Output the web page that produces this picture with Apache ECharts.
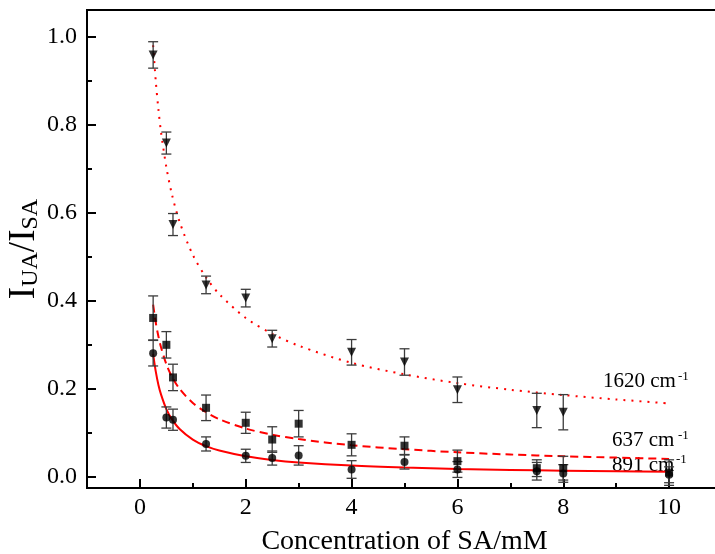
<!DOCTYPE html>
<html>
<head>
<meta charset="utf-8">
<script src="https://cdn.jsdelivr.net/npm/echarts@6/dist/echarts.min.js"></script>
<style>
html,body{margin:0;padding:0;background:#fff;}
#chart{width:715px;height:554px;}
</style>
</head>
<body>
<div id="chart"></div>
<script>
// ---------- data ----------
var xTicks = [0, 2, 4, 6, 8, 10];
var xMinorTicks = [1, 3, 5, 7, 9];
var yTicks = [0.0, 0.2, 0.4, 0.6, 0.8, 1.0];
var yMinorTicks = [0.1, 0.3, 0.5, 0.7, 0.9];

// 1620 cm-1 (down triangles)
var x1620 = [0.25, 0.5, 0.625, 1.25, 2, 2.5, 4, 5, 6, 7.5, 8];
var y1620 = [0.958, 0.758, 0.573, 0.436, 0.406, 0.314, 0.283, 0.261, 0.198, 0.151, 0.147];
var e1620 = [0.030, 0.025, 0.025, 0.020, 0.020, 0.019, 0.029, 0.030, 0.029, 0.039, 0.040];

// 637 cm-1 (squares)
var x637 = [0.25, 0.5, 0.625, 1.25, 2, 2.5, 3, 4, 5, 6, 7.5, 8, 10];
var y637 = [0.361, 0.300, 0.226, 0.157, 0.123, 0.085, 0.121, 0.073, 0.071, 0.036, 0.020, 0.020, 0.010];
var e637 = [0.050, 0.030, 0.030, 0.029, 0.024, 0.029, 0.030, 0.025, 0.020, 0.025, 0.019, 0.027, 0.029];

// 891 cm-1 (circles)
var x891 = [0.25, 0.5, 0.625, 1.25, 2, 2.5, 3, 4, 5, 6, 7.5, 8, 10];
var y891 = [0.281, 0.135, 0.130, 0.075, 0.048, 0.043, 0.049, 0.017, 0.034, 0.017, 0.013, 0.008, 0.005];
var e891 = [0.029, 0.024, 0.024, 0.016, 0.015, 0.016, 0.022, 0.020, 0.016, 0.018, 0.020, 0.020, 0.018];

// fitted curves
var xFit = [0.25, 0.3, 0.35, 0.4, 0.5, 0.6, 0.75, 1, 1.25, 1.5, 2, 2.5, 3, 4, 5, 6, 7, 8, 9, 10];
var fit1620 = [0.980, 0.898, 0.834, 0.782, 0.703, 0.644, 0.579, 0.504, 0.453, 0.415, 0.361, 0.325, 0.298, 0.259, 0.233, 0.213, 0.198, 0.186, 0.176, 0.167];
var fit637 = [0.391, 0.350, 0.319, 0.294, 0.256, 0.229, 0.200, 0.168, 0.147, 0.131, 0.110, 0.096, 0.086, 0.072, 0.063, 0.056, 0.051, 0.047, 0.044, 0.041];
var fit891 = [0.279, 0.239, 0.209, 0.187, 0.154, 0.132, 0.109, 0.085, 0.070, 0.060, 0.047, 0.0387, 0.0331, 0.0259, 0.0214, 0.0183, 0.016, 0.0143, 0.0129, 0.0118];

var seriesNames = ['1620 cm-1', '637 cm-1', '891 cm-1'];

// ---------- helpers ----------
function zip2(xs, ys) { return xs.map(function (x, i) { return [x, ys[i]]; }); }
function zip3(xs, ys, es) { return xs.map(function (x, i) { return [x, ys[i], es[i]]; }); }

var FONT = "'Liberation Serif','Times New Roman',serif";
var RED = '#ff0000';

function errRender(color) {
  return function (params, api) {
    var x = api.value(0), y = api.value(1), e = api.value(2);
    var t = api.coord([x, y + e]);
    var b = api.coord([x, y - e]);
    var hw = 5;
    var st = { stroke: color, lineWidth: 1.3 };
    return {
      type: 'group',
      children: [
        { type: 'line', shape: { x1: t[0], y1: t[1], x2: b[0], y2: b[1] }, style: st },
        { type: 'line', shape: { x1: t[0] - hw, y1: t[1], x2: t[0] + hw, y2: t[1] }, style: st },
        { type: 'line', shape: { x1: b[0] - hw, y1: b[1], x2: b[0] + hw, y2: b[1] }, style: st }
      ]
    };
  };
}

function errSeries(xs, ys, es, color) {
  return {
    type: 'custom', renderItem: errRender(color),
    encode: { x: 0, y: 1 }, data: zip3(xs, ys, es), z: 2, silent: true
  };
}

var chart = echarts.init(document.getElementById('chart'), null, { renderer: 'canvas' });

var axisLineStyle = { color: '#000', width: 2 };

var option = {
  animation: false,
  backgroundColor: '#fff',
  grid: {
    left: 87, top: 10, width: 635, height: 478,
    containLabel: false, outerBoundsMode: 'none',
    show: true, borderColor: '#000', borderWidth: 2
  },
  xAxis: [
    {
      type: 'value', min: -1, max: 11,
      axisLine: { show: true, onZero: false, lineStyle: axisLineStyle },
      axisTick: { show: true, inside: true, length: 9, customValues: xTicks, lineStyle: { color: '#000', width: 2 } },
      axisLabel: { show: true, customValues: xTicks, fontFamily: FONT, fontSize: 24, color: '#000', margin: 8 },
      splitLine: { show: false },
      name: 'Concentration of SA/mM', nameLocation: 'middle', nameGap: 40, nameMoveOverlap: false,
      nameTextStyle: { fontFamily: FONT, fontSize: 28, color: '#000' }
    },
    {
      type: 'value', min: -1, max: 11, position: 'bottom',
      axisLine: { show: false, onZero: false },
      axisTick: { show: true, inside: true, length: 5, customValues: xMinorTicks, lineStyle: { color: '#000', width: 2 } },
      axisLabel: { show: false },
      splitLine: { show: false }
    }
  ],
  yAxis: [
    {
      type: 'value', min: -0.025, max: 1.06,
      axisLine: { show: true, onZero: false, lineStyle: axisLineStyle },
      axisTick: { show: true, inside: true, length: 9, customValues: yTicks, lineStyle: { color: '#000', width: 2 } },
      axisLabel: {
        show: true, customValues: yTicks, fontFamily: FONT, fontSize: 24, color: '#000', margin: 10,
        formatter: function (v) { return v.toFixed(1); }
      },
      splitLine: { show: false },
      name: '{i|I}{s|UA}{i|/I}{s|SA}', nameLocation: 'middle', nameGap: 44, nameMoveOverlap: false,
      nameTextStyle: {
        fontFamily: FONT, color: '#000',
        rich: {
          i: { fontFamily: FONT, fontSize: 37, color: '#000', lineHeight: 40, verticalAlign: 'bottom' },
          s: { fontFamily: FONT, fontSize: 24, color: '#000', lineHeight: 22, verticalAlign: 'bottom' }
        }
      }
    },
    {
      type: 'value', min: -0.025, max: 1.06, position: 'left',
      axisLine: { show: false, onZero: false },
      axisTick: { show: true, inside: true, length: 5, customValues: yMinorTicks, lineStyle: { color: '#000', width: 2 } },
      axisLabel: { show: false },
      splitLine: { show: false }
    }
  ],
  series: [
    // fitted curves
    {
      name: seriesNames[0] + ' fit', type: 'line', data: zip2(xFit, fit1620), smooth: 0.3, showSymbol: false,
      lineStyle: { color: RED, width: 2, type: [2, 6] }, z: 1, silent: true
    },
    {
      name: seriesNames[1] + ' fit', type: 'line', data: zip2(xFit, fit637), smooth: 0.3, showSymbol: false,
      lineStyle: { color: RED, width: 2, type: [8, 5] }, z: 1, silent: true
    },
    {
      name: seriesNames[2] + ' fit', type: 'line', data: zip2(xFit, fit891), smooth: 0.3, showSymbol: false,
      lineStyle: { color: RED, width: 2 }, z: 1, silent: true
    },
    // error bars
    errSeries(x1620, y1620, e1620, '#3c3c3c'),
    errSeries(x637, y637, e637, '#3c3c3c'),
    errSeries(x891, y891, e891, '#3c3c3c'),
    // points
    {
      name: seriesNames[0], type: 'scatter', data: zip2(x1620, y1620),
      symbol: 'triangle', symbolRotate: 180, symbolSize: 9,
      itemStyle: { color: '#000' }, z: 3
    },
    {
      name: seriesNames[1], type: 'scatter', data: zip2(x637, y637),
      symbol: 'rect', symbolSize: 8,
      itemStyle: { color: '#000' }, z: 3
    },
    {
      name: seriesNames[2], type: 'scatter', data: zip2(x891, y891),
      symbol: 'circle', symbolSize: 8,
      itemStyle: { color: '#000' }, z: 3
    }
  ],
  graphic: [
    { type: 'text', x: 603, y: 371, style: { text: '1620 cm', font: "21px 'Liberation Serif'", fill: '#000' } },
    { type: 'text', x: 678, y: 370, style: { text: '-1', font: "13px 'Liberation Serif'", fill: '#000' } },
    { type: 'text', x: 612, y: 430, style: { text: '637 cm', font: "21px 'Liberation Serif'", fill: '#000' } },
    { type: 'text', x: 678, y: 429, style: { text: '-1', font: "13px 'Liberation Serif'", fill: '#000' } },
    { type: 'text', x: 612, y: 455, style: { text: '891 cm', font: "21px 'Liberation Serif'", fill: '#000' } },
    { type: 'text', x: 676, y: 453, style: { text: '-1', font: "13px 'Liberation Serif'", fill: '#000' } }
  ]
};

chart.setOption(option);
</script>
</body>
</html>
